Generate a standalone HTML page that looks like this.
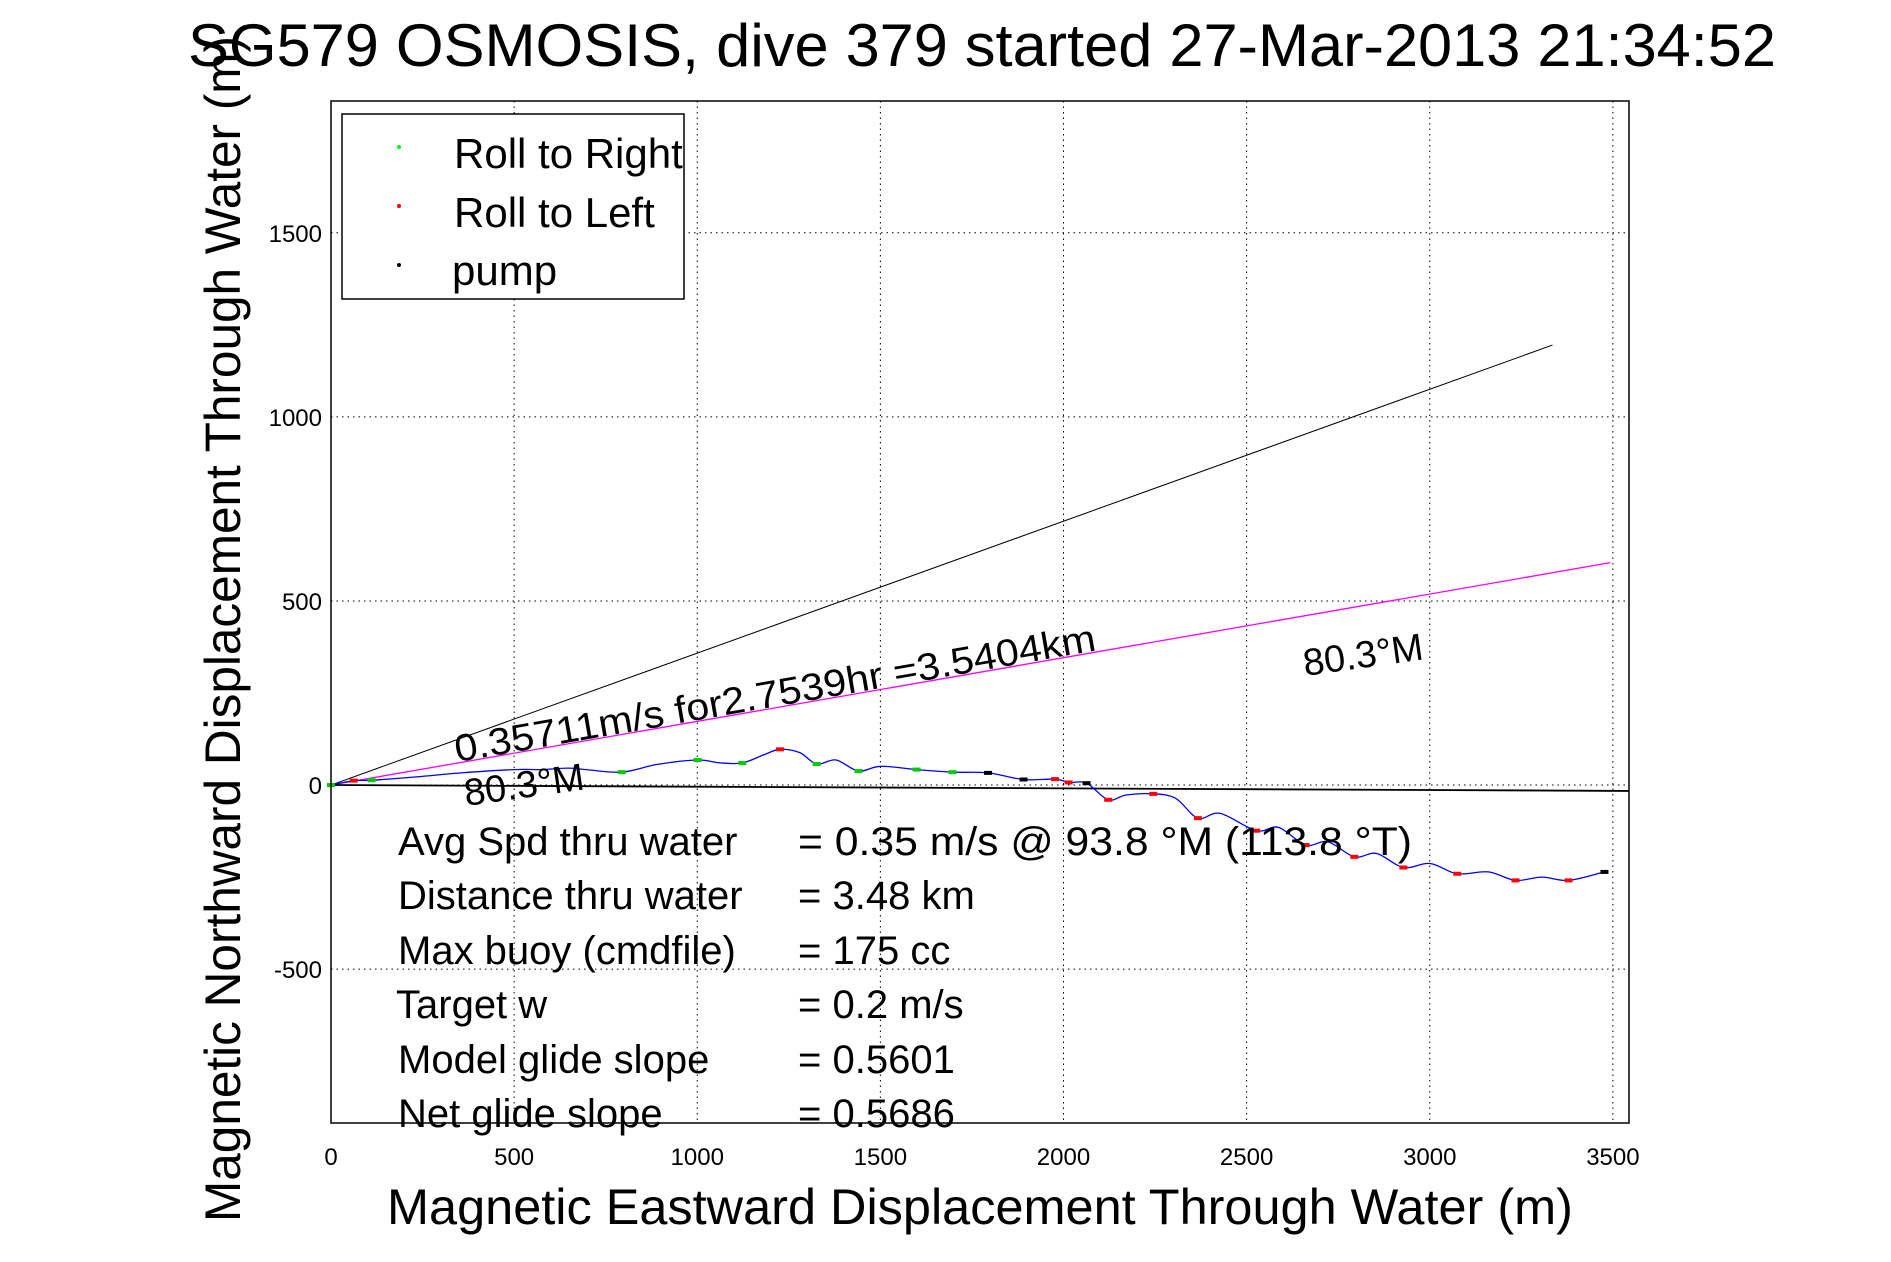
<!DOCTYPE html>
<html><head><meta charset="utf-8"><style>
html,body{margin:0;padding:0;background:#fff;}
svg{display:block;font-family:"Liberation Sans",sans-serif;}
</style></head><body>
<svg id="chart" width="1891" height="1262" viewBox="0 0 1891 1262" xmlns="http://www.w3.org/2000/svg" xml:space="preserve">
<rect x="0" y="0" width="1891" height="1262" fill="#fff"/>
<g id="grid"></g>
<g id="series"></g>
<rect x="331" y="101" width="1298" height="1022" fill="none" stroke="#000" stroke-width="1.5"/>
<g id="ticks"></g>
<text x="188" y="66" font-size="60" textLength="1588" lengthAdjust="spacingAndGlyphs">SG579 OSMOSIS, dive 379 started 27-Mar-2013 21:34:52</text>
<text transform="translate(240,629) rotate(-90)" font-size="50" text-anchor="middle" textLength="1186" lengthAdjust="spacingAndGlyphs">Magnetic Northward Displacement Through Water (m)</text>
<text x="980" y="1224" font-size="50" text-anchor="middle" textLength="1186" lengthAdjust="spacingAndGlyphs">Magnetic Eastward Displacement Through Water (m)</text>
<g>
<rect x="342" y="114" width="342" height="185" fill="#fff" stroke="#000" stroke-width="1.5"/>
<circle cx="399" cy="147" r="2" fill="#0f0"/>
<text x="454" y="168" font-size="42">Roll to Right</text>
<circle cx="399" cy="206" r="2" fill="#f00"/>
<text x="454" y="227" font-size="42">Roll to Left</text>
<circle cx="399" cy="265" r="2" fill="#000"/>
<text x="452" y="285" font-size="42">pump</text>
</g>
<text transform="translate(457,762) rotate(-9.9)" font-size="38" textLength="650" lengthAdjust="spacingAndGlyphs">0.35711m/s for2.7539hr =3.5404km</text>
<text transform="translate(1305,676) rotate(-8)" font-size="38">80.3°M</text>
<text transform="translate(466,806) rotate(-8)" font-size="38">80.3°M</text>
<g font-size="40">
<text x="398" y="855">Avg Spd thru water</text>
<text x="798" y="855" textLength="614" lengthAdjust="spacingAndGlyphs">=  0.35 m/s @  93.8 °M (113.8 °T)</text>
<text x="398" y="909">Distance thru water</text>
<text x="798" y="909">=  3.48 km</text>
<text x="398" y="964">Max buoy (cmdfile)</text>
<text x="798" y="964">= 175 cc</text>
<text x="396" y="1018">Target w</text>
<text x="798" y="1018">= 0.2 m/s</text>
<text x="398" y="1073">Model glide slope</text>
<text x="798" y="1073">= 0.5601</text>
<text x="398" y="1127">Net glide slope</text>
<text x="798" y="1127">= 0.5686</text>
</g>
</svg>
<script>
const xTicks = [0, 500, 1000, 1500, 2000, 2500, 3000, 3500];
const yTicks = [-500, 0, 500, 1000, 1500];
const trackX = [0,62,111,233,355,501,574,647,696,794,891,1001,1063,1123,1184,1226,1280,1326,1379,1440,1501,1599,1697,1794,1891,1977,2014,2063,2122,2171,2245,2306,2367,2428,2526,2587,2661,2722,2794,2855,2928,3001,3075,3160,3234,3306,3379,3477];
const trackY = [0,12,13,22,33,42,42,46,42,35,56,68,60,60,83,97,88,57,68,38,51,42,35,33,15,16,7,5,-40,-27,-24,-36,-90,-77,-124,-115,-163,-154,-195,-186,-224,-213,-241,-236,-259,-250,-259,-236];
const trackType = ['g','r','g','','','','','','','g','','g','','g','','r','','g','','g','','g','g','p','p','r','r','p','r','','r','','r','','r','','r','','r','','r','','r','','r','','r','p'];
const headLineEnd = [3335, 1195];
const driftLineEnd = [3493, 604];
const bottomLineEnd = [3544, -16];

const X0 = 331, X1 = 1629, Y0 = 1123, Y1 = 101;
const xMin = 0, xMax = 3544, yMin = -918, yMax = 1858;
function sx(v){ return X0 + (v - xMin) / (xMax - xMin) * (X1 - X0); }
function sy(v){ return Y0 - (v - yMin) / (yMax - yMin) * (Y0 - Y1); }
const NS = 'http://www.w3.org/2000/svg';
function mk(tag, attrs, parent){ const e = document.createElementNS(NS, tag); for (const k in attrs) e.setAttribute(k, attrs[k]); parent.appendChild(e); return e; }
const grid = document.getElementById('grid'), ticks = document.getElementById('ticks'), series = document.getElementById('series');

xTicks.forEach(v => {
  const x = sx(v);
  const g = mk('line', {x1:x, x2:x, y1:Y1, y2:Y0, stroke:'#000', 'stroke-width':1, 'stroke-dasharray':'1.5 4'}, grid);
  
  
  const t = mk('text', {x:x, y:1165, 'font-size':24, 'text-anchor':'middle'}, ticks);
  t.textContent = v;
  
  
});
yTicks.forEach(v => {
  const y = sy(v);
  const g = mk('line', {x1:X0, x2:X1, y1:y, y2:y, stroke:'#000', 'stroke-width':1, 'stroke-dasharray':'1.5 4'}, grid);
  
  
  const t = mk('text', {x:322, y:y+9, 'font-size':24, 'text-anchor':'end'}, ticks);
  t.textContent = v;
  
  
});

let l = mk('line', {x1:sx(0), y1:sy(0), x2:sx(headLineEnd[0]), y2:sy(headLineEnd[1]), stroke:'#000', 'stroke-width':1}, series);


l = mk('line', {x1:sx(0), y1:sy(0), x2:sx(driftLineEnd[0]), y2:sy(driftLineEnd[1]), stroke:'#f0f', 'stroke-width':1.3}, series);


l = mk('line', {x1:sx(0), y1:sy(0), x2:sx(bottomLineEnd[0]), y2:sy(bottomLineEnd[1]), stroke:'#000', 'stroke-width':1.8}, series);



const pts = trackX.map((v, i) => [sx(v), sy(trackY[i])]);
let d = 'M' + pts[0][0].toFixed(1) + ' ' + pts[0][1].toFixed(1);
for (let i = 0; i < pts.length - 1; i++) {
  const p0 = pts[Math.max(i-1,0)], p1 = pts[i], p2 = pts[i+1], p3 = pts[Math.min(i+2, pts.length-1)];
  const c1 = [p1[0] + (p2[0]-p0[0])/6, p1[1] + (p2[1]-p0[1])/6];
  const c2 = [p2[0] - (p3[0]-p1[0])/6, p2[1] - (p3[1]-p1[1])/6];
  d += ' C' + c1[0].toFixed(1) + ' ' + c1[1].toFixed(1) + ' ' + c2[0].toFixed(1) + ' ' + c2[1].toFixed(1) + ' ' + p2[0].toFixed(1) + ' ' + p2[1].toFixed(1);
}
const p = mk('path', {d:d, fill:'none', stroke:'#00f', 'stroke-width':1.3}, series);



const colors = {g:'#0c0', r:'#f00', p:'#000'};
trackX.forEach((v, i) => {
  const t = trackType[i];
  if (!t) return;
  const c = mk('rect', {x:sx(v)-4, y:sy(trackY[i])-2, width:8, height:4, fill:colors[t]}, series);
  
  
});
</script>
</body></html>
